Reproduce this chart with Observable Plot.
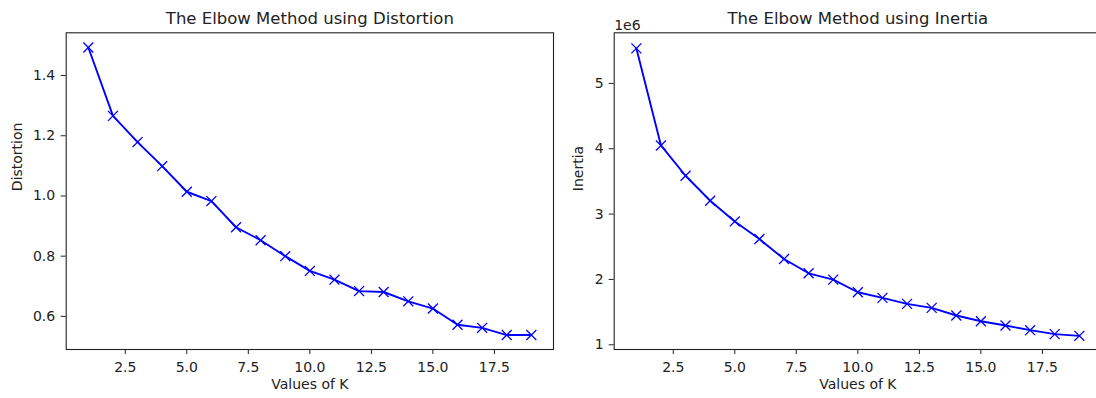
<!DOCTYPE html>
<html><head><meta charset="utf-8">
<script src="https://cdn.jsdelivr.net/npm/d3@7"></script>
<script src="https://cdn.jsdelivr.net/npm/@observablehq/plot@0.6"></script>
<style>
html,body{margin:0;padding:0;background:#fff;overflow:hidden;width:1096px;height:398px}
#wrap{position:relative;width:1140px;height:398px}
#left{position:absolute;left:0;top:0}
#right{position:absolute;left:560px;top:0}
svg{overflow:visible}
</style></head><body><div id="wrap"><div id="left"></div><div id="right"></div></div>
<script>
const K = [1,2,3,4,5,6,7,8,9,10,11,12,13,14,15,16,17,18,19];
const distortion = [1.493,1.266,1.179,1.099,1.014,0.983,0.896,0.853,0.800,0.751,0.722,0.684,0.681,0.650,0.626,0.572,0.562,0.538,0.538];
const inertia = [5536000,4050000,3587000,3204000,2888000,2618000,2313000,2094000,1997000,1804000,1718000,1626000,1565000,1448000,1361000,1295000,1224000,1163000,1137000];
const xTicks = [2.5,5,7.5,10,12.5,15,17.5];
const distortionTicks = [0.6,0.8,1.0,1.2,1.4];
const inertiaTicks = [1e6,2e6,3e6,4e6,5e6];
const titles = ["The Elbow Method using Distortion","The Elbow Method using Inertia"];
const xLabel = "Values of K";
const yLabels = ["Distortion","Inertia"];

const font = {fontFamily:"DejaVu Sans", fontSize:"14px", color:"#222", background:"#fff"};

function panel({values, yDomain, yTicks, yFmt, width, marginLeft, marginRight, title, ylab, ylabDx, tickPad, offsetText}) {
  const data = K.map((k,i)=>({k, v: values[i]}));
  const marks = [
    Plot.frame({stroke:"#222", strokeWidth:1.1}),
    Plot.axisX(xTicks, {tickFormat: d3.format(".1f"), tickSize:5, tickPadding:7.5, label:null}),
    Plot.axisY(yTicks, {tickFormat: yFmt, tickSize:5, tickPadding:tickPad, label:null}),
    Plot.line(data, {x:"k", y:"v", stroke:"#0000ff", strokeWidth:1.9}),
    Plot.dot(data, {x:"k", y:"v", symbol:"times", r:4.6, stroke:"#0000ff", strokeWidth:1.3}),
    Plot.text([title], {frameAnchor:"top", lineAnchor:"middle", dy:-14.5, fontSize:16.5, fill:"#222"}),
    Plot.text([xLabel], {frameAnchor:"bottom", lineAnchor:"middle", dy:35.5, fontSize:14, fill:"#222"}),
    Plot.text([ylab], {frameAnchor:"left", lineAnchor:"middle", dx:ylabDx, rotate:-90, fontSize:14, fill:"#222"})
  ];
  if (offsetText) marks.push(Plot.text([offsetText], {frameAnchor:"top-left", textAnchor:"start", lineAnchor:"bottom", dy:-3, fontSize:14, fill:"#222"}));
  return Plot.plot({
    width, height:398,
    marginLeft, marginRight, marginTop:32.3, marginBottom:49,
    style: font,
    x: {domain:[0.1,19.9]},
    y: {domain:yDomain},
    marks
  });
}

document.getElementById("left").append(panel({
  values: distortion, yDomain:[0.490,1.542], yTicks: distortionTicks, yFmt: d3.format(".1f"),
  width:560, marginLeft:65.7, marginRight:7, title:titles[0], ylab:yLabels[0], ylabDx:-48.2, tickPad:6
}));
document.getElementById("right").append(panel({
  values: inertia, yDomain:[0.928e6,5.774e6], yTicks: inertiaTicks, yFmt: d => String(d/1e6),
  width:580, marginLeft:53.7, marginRight:39, title:titles[1], ylab:yLabels[1], ylabDx:-35.2, tickPad:5.5, offsetText:"1e6"
}));
</script></body></html>
